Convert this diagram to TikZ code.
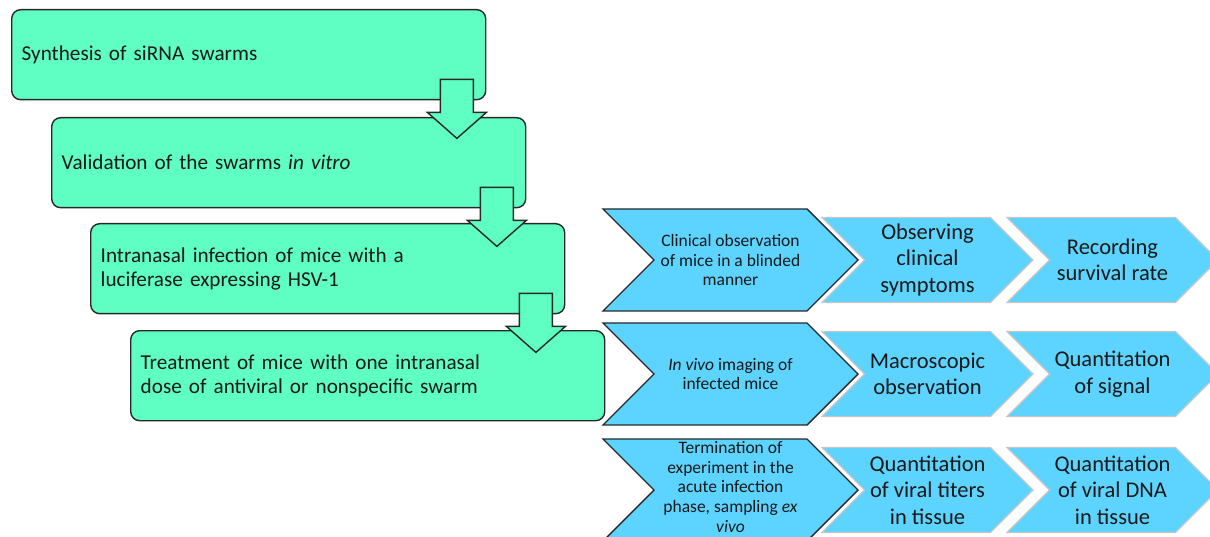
\documentclass[tikz,border=0pt]{standalone}
\usepackage{fontspec}
\setmainfont{Carlito}
\usetikzlibrary{calc}
\definecolor{mintfill}{RGB}{95,255,195}
\definecolor{skyfill}{RGB}{93,211,255}
\definecolor{inkline}{RGB}{40,40,40}

\begin{document}
\begin{tikzpicture}[x=1pt,y=-1pt,
    stepbox/.style={draw=inkline,line width=1.4pt,fill=mintfill,rounded corners=9pt,
      anchor=north west,minimum width=474pt,minimum height=90pt,text width=454pt,
      inner xsep=10pt,align=left,font=\fontsize{21.2}{24}\selectfont,text=black!90},
    flowarrow/.style={draw=inkline,line width=1.4pt,fill=mintfill,line join=miter},
    chevfirst/.style={draw=inkline,line width=1.4pt,fill=skyfill},
    chevnext/.style={draw=black!22,line width=1.2pt,fill=skyfill},
    firstlabel/.style={align=center,font=\fontsize{17.5}{19.6}\selectfont,text=black!90},
    nextlabel/.style={align=center,font=\fontsize{22.5}{26.5}\selectfont,text=black!90}]
  \useasboundingbox (0,0) rectangle (1210,537);

  % workflow steps
  \node[stepbox] (s1) at (11,9)    {Synthesis of siRNA swarms};
  \node[stepbox] (s2) at (51,117)  {Validation of the swarms \textit{in vitro}};
  \node[stepbox] (s3) at (90,223)  {Intranasal infection of mice with a\\luciferase expressing HSV-1};
  \node[stepbox] (s4) at (130,330) {Treatment of mice with one intranasal\\dose of antiviral or nonspecific swarm};
  \foreach \a/\b in {1/2,2/3,3/4}
    \draw[flowarrow] ($(s\a.south east)+(-46,-21)$) -- ++(33,0) -- ++(0,33) -- ++(13,0)
      -- ++(-29.5,26) -- ++(-29.5,-26) -- ++(13,0) -- cycle;

  % read-outs
  \foreach \t in {209,323,439} {
    \draw[chevfirst] (603,\t) -- ++(204,0) -- ++(51,51) -- ++(-51,51) -- ++(-204,0) -- ++(51,-51) -- cycle;
    \foreach \c in {0,1}
      \draw[chevnext] (822+185*\c,\t+8.5) -- ++(168.5,0) -- ++(42.5,42.5) -- ++(-42.5,42.5)
        -- ++(-168.5,0) -- ++(42.5,-42.5) -- cycle;
  }
  \node[firstlabel] (clin) at (730.5,260) {Clinical observation\\of mice in a blinded\\manner};
  \node[nextlabel] (clinsym) at (927.5,260) {Observing\\clinical\\symptoms};
  \node[nextlabel] (clinsurv) at (1112.5,260) {Recording\\survival rate};
  \node[firstlabel] (img) at (730.5,374) {\textit{In vivo} imaging of\\infected mice};
  \node[nextlabel] (imgmacro) at (927.5,374) {Macroscopic\\observation};
  \node[nextlabel] (imgsig) at (1112.5,374) {Quantitation\\of signal};
  \node[firstlabel] (term) at (730.5,487) {Termination of\\experiment in the\\acute infection\\phase, sampling \textit{ex}\\\textit{vivo}};
  \node[nextlabel] (termtiter) at (927.5,490) {Quantitation\\of viral titers\\in tissue};
  \node[nextlabel] (termdna) at (1112.5,490) {Quantitation\\of viral DNA\\in tissue};
\end{tikzpicture}
\end{document}
